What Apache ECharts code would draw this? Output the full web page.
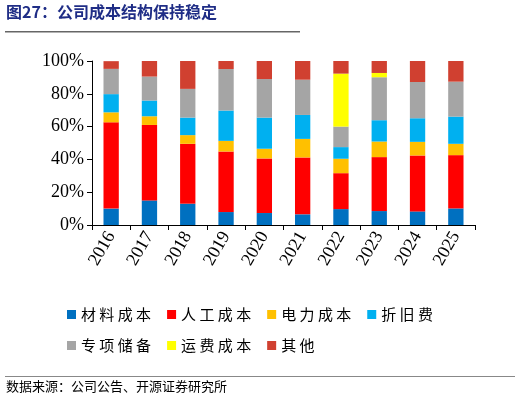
<!DOCTYPE html>
<html><head><meta charset="utf-8">
<script src="https://cdn.jsdelivr.net/npm/echarts@6/dist/echarts.min.js"></script>
<style>html,body{margin:0;padding:0;background:#fff}#c{width:520px;height:405px}</style>
</head><body><div id="c"></div>
<script>
const years = ['2016','2017','2018','2019','2020','2021','2022','2023','2024','2025'];
const material = [10, 15, 13, 7.9, 7.3, 6.5, 9.7, 8.5, 8.3, 10.1];
const labor = [52.6, 46, 36.5, 36.9, 33.3, 34.7, 21.9, 32.9, 34.1, 32.5];
const power = [6.1, 5.3, 5.3, 6.5, 5.9, 11.3, 8.8, 9.5, 8.3, 6.9];
const depreciation = [11.1, 9.6, 10.7, 18.5, 19, 14.6, 7.1, 13, 14.4, 16.6];
const special = [15.4, 14.6, 17.5, 25.3, 23.5, 21.5, 12.5, 26.2, 22.1, 21.3];
const freight = [0, 0, 0, 0, 0, 0, 32.3, 2.6, 0, 0];
const other = [4.7, 9.5, 17, 4.9, 11, 11.4, 7.7, 7.3, 12.8, 12.6];

const names = ['材料成本','人工成本','电力成本','折旧费','专项储备','运费成本','其他'];
const colors = ['#0070C0','#FF0000','#FFC000','#00B0F0','#A5A5A5','#FFFF00','#D04030'];
const values = [material, labor, power, depreciation, special, freight, other];

const chart = echarts.init(document.getElementById('c'));
const cn = '"Noto Sans CJK SC", sans-serif';
const serif = '"Liberation Serif", "DejaVu Serif", serif';
chart.setOption({
  animation: false,
  color: colors,
  graphic: [
    { type: 'text', left: 6, top: 4, style: { text: '图27：公司成本结构保持稳定', font: 'bold 16px ' + cn, fill: '#1F2D86' } },
    { type: 'rect', shape: { x: 5, y: 31, width: 295, height: 1.5 }, style: { fill: '#666' } },
    { type: 'rect', shape: { x: 5, y: 376, width: 510, height: 1 }, style: { fill: '#888' } },
    { type: 'text', left: 6, top: 380, style: { text: '数据来源：公司公告、开源证券研究所', font: '13px ' + cn, fill: '#000' } }
  ],
  grid: { left: 92, right: 45, top: 61, bottom: 180 },
  legend: {
    left: 62, top: 302, width: 420, itemWidth: 9, itemHeight: 9, itemGap: 16,
    icon: 'rect', textStyle: { fontFamily: cn, fontSize: 15, color: '#000' },
    formatter: n => n.split('').join(' ')
  },
  xAxis: {
    type: 'category', data: years,
    axisLine: { lineStyle: { color: '#000' } },
    axisTick: { show: true, lineStyle: { color: '#000' } },
    axisLabel: { rotate: 60, color: '#000', fontFamily: serif, fontSize: 18, margin: 8 }
  },
  yAxis: {
    type: 'value', min: 0, max: 100, interval: 20,
    axisLine: { show: true, lineStyle: { color: '#000' } },
    axisTick: { show: true, lineStyle: { color: '#000' } },
    splitLine: { show: false },
    axisLabel: { formatter: '{value}%', color: '#000', fontFamily: serif, fontSize: 18 }
  },
  series: names.map((n, i) => ({
    name: n, type: 'bar', stack: 'a', barWidth: '40%', data: values[i],
    itemStyle: { color: colors[i] }
  }))
});
</script></body></html>
